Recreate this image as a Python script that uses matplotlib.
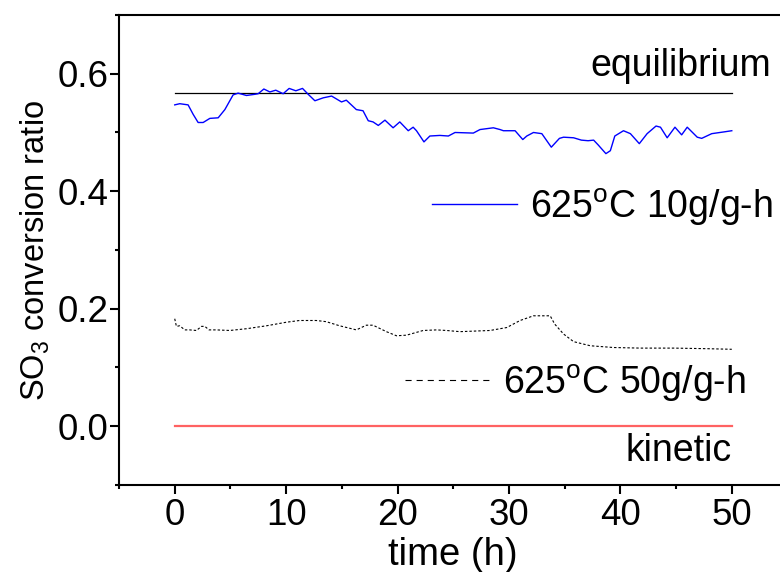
import matplotlib
matplotlib.use("Agg")
import matplotlib.pyplot as plt
from matplotlib.ticker import MultipleLocator

plt.rcParams['font.family'] = ['Liberation Sans', 'DejaVu Sans']
plt.rcParams['mathtext.fontset'] = 'custom'
plt.rcParams['mathtext.rm'] = 'Liberation Sans'
plt.rcParams['mathtext.it'] = 'Liberation Sans:italic'
plt.rcParams['mathtext.bf'] = 'Liberation Sans:bold'

# 625 C, 10 g/g-h run
t_10 = [0, 0.45, 1.2, 1.65, 2.1, 2.55, 3.15, 3.9, 4.5, 5.24, 5.69, 6.44, 7.19, 7.49,
        8.0, 8.54, 9.07, 9.73, 10.27, 10.87, 11.47, 11.98, 12.58, 13.33, 14.08, 14.97,
        15.4, 16.3, 16.9, 17.37, 17.8, 18.27, 18.87, 19.6, 20.2, 20.96, 21.4, 21.7,
        22.37, 22.9, 23.8, 24.56, 25.16, 26.8, 27.4, 28.6, 29.2, 29.5, 29.95, 30.55,
        31.24, 31.6, 32.2, 32.95, 33.8, 34.53, 34.9, 35.8, 36.5, 37.1, 37.6, 38.0,
        38.7, 39.1, 39.5, 40.28, 40.9, 41.7, 42.4, 43.2, 43.6, 44.2, 44.9, 45.5,
        46.0, 46.9, 47.3, 48.2, 49.3, 50.0]
conv_10 = [0.547, 0.549, 0.547, 0.531, 0.517, 0.517, 0.524, 0.525, 0.539, 0.564,
           0.567, 0.563, 0.565, 0.566, 0.574, 0.569, 0.572, 0.566, 0.575, 0.571,
           0.575, 0.565, 0.554, 0.559, 0.562, 0.552, 0.555, 0.539, 0.537, 0.520,
           0.518, 0.512, 0.521, 0.508, 0.518, 0.503, 0.509, 0.503, 0.484, 0.494,
           0.495, 0.494, 0.500, 0.499, 0.505, 0.508, 0.505, 0.503, 0.503, 0.503,
           0.488, 0.494, 0.500, 0.498, 0.475, 0.490, 0.492, 0.491, 0.487, 0.486,
           0.487, 0.479, 0.464, 0.469, 0.494, 0.503, 0.498, 0.481, 0.498, 0.511,
           0.509, 0.491, 0.509, 0.496, 0.509, 0.492, 0.490, 0.498, 0.501, 0.503]

# 625 C, 50 g/g-h run
t_50 = [0, 0.15, 0.45, 0.9, 1.35, 1.95, 2.4, 2.7, 3.08, 3.74, 4.94, 6.44, 8.24, 10.0,
        11.2, 12.7, 13.6, 14.8, 16.3, 17.2, 17.8, 19.0, 19.9, 20.8, 22.3, 23.5, 24.4,
        25.6, 28.3, 29.8, 31.0, 32.2, 33.7, 34.1, 34.9, 35.8, 37.3, 39.4, 41.8,
        44.8, 47.8, 50.0]
conv_50 = [0.183, 0.170, 0.171, 0.164, 0.164, 0.163, 0.170, 0.170, 0.164, 0.164,
           0.163, 0.166, 0.171, 0.177, 0.180, 0.180, 0.178, 0.171, 0.164, 0.172,
           0.172, 0.161, 0.154, 0.155, 0.163, 0.164, 0.163, 0.161, 0.163, 0.168,
           0.180, 0.188, 0.188, 0.174, 0.157, 0.144, 0.137, 0.134, 0.133, 0.133,
           0.132, 0.131]

# reference limits
t_span = [0, 50]
equilibrium = 0.568
kinetic = 0.0

x_ticks = [0, 10, 20, 30, 40, 50]
y_ticks = [0.0, 0.2, 0.4, 0.6]

fig = plt.figure(figsize=(7.8, 5.72), dpi=100)
ax = fig.add_axes([0.1526, 0.1521, 0.857, 0.8217])

ax.plot(t_span, [equilibrium, equilibrium], color='black', lw=0.9)
ax.plot(t_span, [kinetic, kinetic], color='#ff6262', lw=1.6)
ax.plot(t_10, conv_10, color='#0000ff', lw=1.0)
ax.plot(t_50, conv_50, color='black', lw=0.8, linestyle=(0, (2.2, 1.8)))

# in-plot key samples
ax.plot([23.1, 30.7], [0.378, 0.378], color='#0000ff', lw=1.0)
ax.plot([20.7, 28.5], [0.078, 0.078], color='black', lw=0.8, linestyle=(0, (5.5, 4.5)))

fs_txt = 27
ax.text(53.5, 0.596, 'equilibrium', ha='right', va='baseline', fontsize=fs_txt)
ax.text(31.9, 0.355, r'625$^{\mathrm{o}}$C 10g/g-h', ha='left', va='baseline', fontsize=fs_txt)
ax.text(29.5, 0.055, r'625$^{\mathrm{o}}$C 50g/g-h', ha='left', va='baseline', fontsize=fs_txt)
ax.text(50.0, -0.060, 'kinetic', ha='right', va='baseline', fontsize=fs_txt)

ax.set_xlim(-5, 55)
ax.set_ylim(-0.1, 0.7)
ax.set_xticks(x_ticks)
ax.set_yticks(y_ticks)
ax.set_yticklabels([f'{v:.1f}' for v in y_ticks])
ax.xaxis.set_minor_locator(MultipleLocator(5))
ax.yaxis.set_minor_locator(MultipleLocator(0.1))

for side in ['left', 'bottom', 'top']:
    ax.spines[side].set_linewidth(1.5)
ax.spines['right'].set_visible(False)

ax.tick_params(axis='both', which='major', direction='out', length=6.5, width=1.5,
               labelsize=26.5, top=False, right=False)
ax.tick_params(axis='both', which='minor', direction='out', length=3.2, width=1.5,
               top=False, right=False)
ax.tick_params(axis='y', which='major', pad=1)
ax.tick_params(axis='x', which='major', pad=3)

ax.set_xlabel('time (h)', fontsize=27.5, labelpad=3)
ax.set_ylabel(r'SO$_3$ conversion ratio', fontsize=23.5, labelpad=4)

fig.savefig('out.png', dpi=100)
